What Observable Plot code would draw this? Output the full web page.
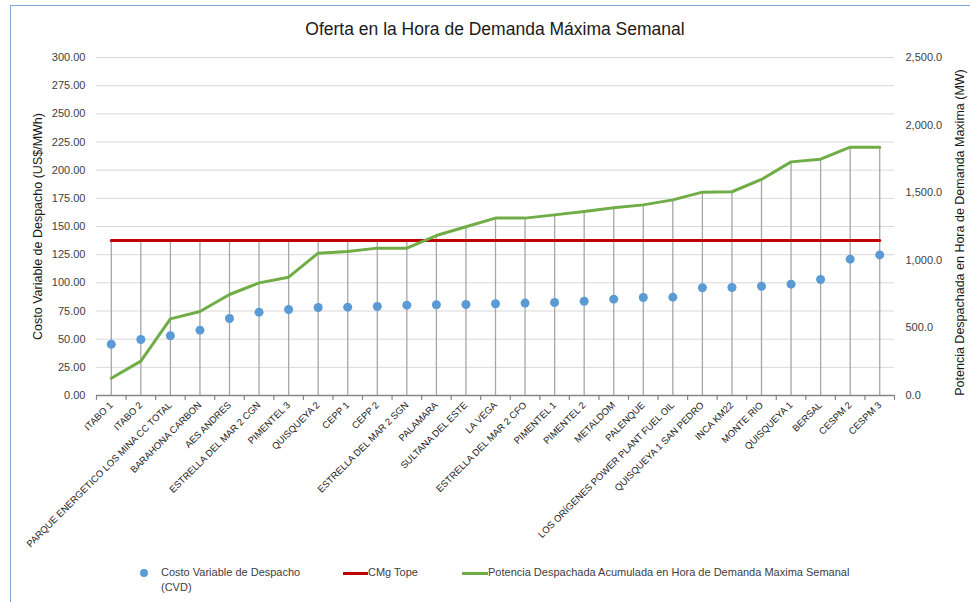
<!DOCTYPE html>
<html>
<head>
<meta charset="utf-8">
<script src="https://cdn.jsdelivr.net/npm/d3@7"></script>
<script src="https://cdn.jsdelivr.net/npm/@observablehq/plot@0.6"></script>
<style>
  html, body { margin: 0; padding: 0; background: #ffffff; }
  body { width: 970px; height: 602px; overflow: hidden; position: relative; font-family: "Liberation Sans", Arial, sans-serif; color: #404040; }
  #frame { position: absolute; left: 10px; top: 5px; width: 1000px; height: 700px; border-left: 1.5px solid #7aa7dd; border-top: 1.5px solid #7aa7dd; box-sizing: border-box; }
  #title { position: relative; height: 45px; box-sizing: border-box; padding: 16px 76px 0 96px; line-height: 26px; text-align: center; font-size: 17.5px; color: #1a1a1a; }
  #chart { position: relative; }
  #legend { position: relative; height: 47px; font-size: 11px; color: #404040; }
  #legend .item { position: absolute; line-height: 15px; }
  #legend .dot { position: absolute; width: 8px; height: 8px; border-radius: 50%; background: #5b9bd5; }
  #legend .ln { position: absolute; height: 3px; }
</style>
</head>
<body>
<div id="frame"></div>
<div id="title">Oferta en la Hora de Demanda Máxima Semanal</div>
<div id="chart"></div>
<div id="legend">
  <div class="dot" style="left:140px; top:14px;"></div>
  <div class="item" style="left:161px; top:10px;">Costo Variable de Despacho<br>(CVD)</div>
  <div class="ln" style="left:343px; top:17px; width:25px; background:#c00000;"></div>
  <div class="item" style="left:368px; top:10px;">CMg Tope</div>
  <div class="ln" style="left:462px; top:17px; width:26px; background:#70ad47;"></div>
  <div class="item" style="left:488px; top:10px;">Potencia Despachada Acumulada en Hora de Demanda Maxima Semanal</div>
</div>
<script>
const categories = [
  "ITABO 1", "ITABO 2", "PARQUE ENERGETICO LOS MINA CC TOTAL", "BARAHONA CARBON",
  "AES ANDRES", "ESTRELLA DEL MAR 2 CGN", "PIMENTEL 3", "QUISQUEYA 2", "CEPP 1", "CEPP 2",
  "ESTRELLA DEL MAR 2 SGN", "PALAMARA", "SULTANA DEL ESTE", "LA VEGA",
  "ESTRELLA DEL MAR 2 CFO", "PIMENTEL 1", "PIMENTEL 2", "METALDOM", "PALENQUE",
  "LOS ORÍGENES POWER PLANT FUEL OIL", "QUISQUEYA 1 SAN PEDRO", "INCA KM22",
  "MONTE RIO", "QUISQUEYA 1", "BERSAL", "CESPM 2", "CESPM 3"
];
// Costo Variable de Despacho (US$/MWh)
const cvd = [
  45.5, 49.7, 53.0, 58.0, 68.3, 74.0, 76.3, 78.1, 78.4, 79.0,
  80.2, 80.5, 80.8, 81.4, 82.0, 82.5, 83.7, 85.5, 87.0, 87.3,
  95.6, 95.9, 97.0, 98.8, 103.0, 121.0, 124.8
];
// Potencia Despachada Acumulada (MW)
const potencia = [
  128, 254, 567, 621, 747, 833, 875, 1053, 1065, 1090,
  1090, 1183, 1248, 1312, 1312, 1336, 1361, 1388, 1410, 1447,
  1504, 1507, 1598, 1728, 1748, 1837, 1837
];
const cmgTope = 137.6;
const leftTicks = [0, 25, 50, 75, 100, 125, 150, 175, 200, 225, 250, 275, 300];
const rightTicks = [0, 500, 1000, 1500, 2000, 2500];
const leftMax = 300, rightMax = 2500;
const k = leftMax / rightMax;

const data = categories.map((name, i) => ({ name, cvd: cvd[i], mw: potencia[i], cmg: cmgTope }));

const W = 970, ML = 96, MR = 76;
const bw = (W - ML - MR) / categories.length;

const chart = Plot.plot({
  width: W,
  height: 510,
  marginTop: 12,
  marginBottom: 160,
  marginLeft: ML,
  marginRight: MR,
  style: { fontFamily: "Liberation Sans, Arial, sans-serif", color: "#404040", background: "transparent", overflow: "visible" },
  x: { type: "band", domain: categories, padding: 0, round: false },
  y: { domain: [0, leftMax] },
  marks: [
    Plot.gridY(leftTicks.filter(d => d > 0), { stroke: "#d9d9d9", strokeOpacity: 1 }),
    Plot.axisY(leftTicks, { anchor: "left", tickSize: 0, tickPadding: 11, fontSize: 11, tickFormat: d => d.toFixed(2), label: null }),
    Plot.axisY(rightTicks.map(v => v * k), { anchor: "right", tickSize: 0, tickPadding: 11, fontSize: 11, tickFormat: d => d3.format(",.1f")(Math.round(d / k * 10) / 10), label: null }),
    Plot.text(["Costo Variable de Despacho (US$/MWh)"], { frameAnchor: "left", textAnchor: "middle", text: d => d, rotate: -90, dx: -59, fontSize: 12.5, fill: "#1a1a1a" }),
    Plot.text(["Potencia Despachada en Hora de Demanda Maxima (MW)"], { frameAnchor: "right", textAnchor: "middle", text: d => d, rotate: -90, dx: 65, dy: 6, fontSize: 12.5, fill: "#1a1a1a" }),
    Plot.axisX({ tickSize: 0, tickPadding: 8, tickRotate: -45, fontSize: 9.5, label: null, fill: "#1a1a1a" }),
    Plot.ruleX(data, { x: "name", y1: 0, y2: d => Math.max(d.cmg, d.mw * k), stroke: "#a6a6a6", strokeWidth: 1.3 }),
    Plot.ruleY([0], { stroke: "#868686", strokeWidth: 1.3 }),
    Plot.ruleX(categories, { x: d => d, y1: 0, y2: -4.4, dx: -bw / 2, stroke: "#868686", strokeWidth: 1.2 }),
    Plot.ruleX([categories[categories.length - 1]], { x: d => d, y1: 0, y2: -4.4, dx: bw / 2, stroke: "#868686", strokeWidth: 1.2 }),
    Plot.lineY(data, { x: "name", y: "cmg", stroke: "#c00000", strokeWidth: 3 }),
    Plot.lineY(data, { x: "name", y: d => d.mw * k, stroke: "#70ad47", strokeWidth: 3 }),
    Plot.dot(data, { x: "name", y: "cvd", r: 4.5, fill: "#5b9bd5", stroke: "none" })
  ]
});
document.getElementById("chart").appendChild(chart);
</script>
</body>
</html>
